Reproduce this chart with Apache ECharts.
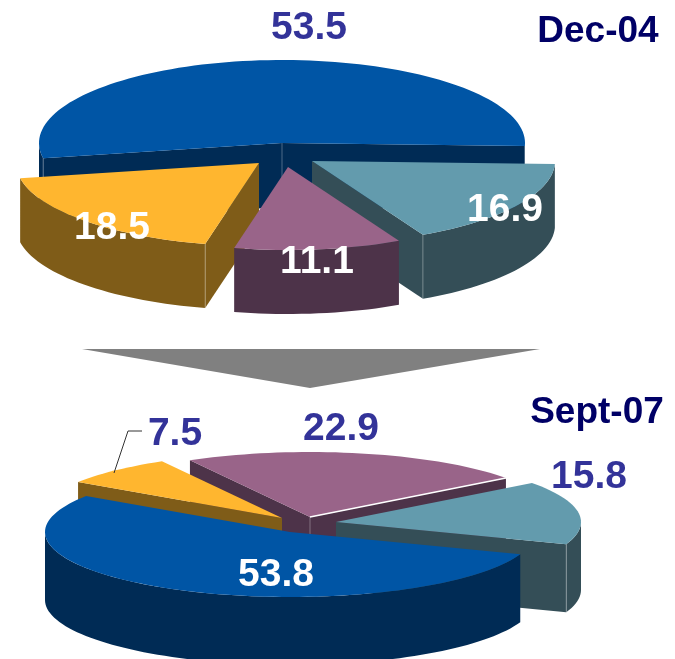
<!DOCTYPE html>
<html>
<head>
<meta charset="UTF-8">
<title>Dec-04 / Sept-07</title>
<style>
    html, body {margin: 0; padding: 0; background: #fff;}
    #main {width: 675px; height: 659px;}
</style>
</head>
<body>
<div id="main"></div>
<script src="https://cdn.jsdelivr.net/npm/echarts@6/dist/echarts.min.js"></script>
<script>
// slices are listed clockwise, starting from each pie's startAngle
var dec04Slices = ['teal', 'purple', 'orange', 'blue'];
var dec04Values = [16.9, 11.1, 18.5, 53.5];
var sept07Slices = ['teal', 'blue', 'orange', 'purple'];
var sept07Values = [15.8, 53.8, 7.5, 22.9];
var titles = ['Dec-04', 'Sept-07'];

var topColors = {blue: '#0055A5', teal: '#639BAD', purple: '#996489', orange: '#FFB62F'};
var wallColors = {blue: '#002B55', teal: '#344E57', purple: '#4D3349', orange: '#7F5C18'};
var fontFamily = '"Liberation Sans", Arial, sans-serif';

// the reference is a fake 3d exploded pie, one custom series per pie
var pies = [{
    slices: dec04Slices, values: dec04Values,
    rx: 243, ry: 83, depth: 64, startAngle: 2,
    drawOrder: ['blue', 'teal', 'orange', 'purple'],
    tips: {blue: [282, 143], teal: [312, 161], purple: [288, 167], orange: [259, 163]}
}, {
    slices: sept07Slices, values: sept07Values,
    rx: 245, ry: 65, depth: 68, startAngle: 323.1,
    drawOrder: ['purple', 'teal', 'orange', 'blue'],
    tips: {blue: [290, 532], teal: [336, 522], purple: [310, 517], orange: [282, 518]},
    whiteEdge: 'purple'
}];

function rim(tip, pie, deg) {
    var t = deg * Math.PI / 180;
    return [tip[0] + pie.rx * Math.cos(t), tip[1] + pie.ry * Math.sin(t)];
}

function arcPoints(tip, pie, from, to) {
    var pts = [];
    var n = Math.max(2, Math.ceil((to - from) / 2));
    for (var i = 0; i <= n; i++) {
        pts.push(rim(tip, pie, from + (to - from) * i / n));
    }
    return pts;
}

function down(p, depth) {
    return [p[0], p[1] + depth];
}

function cutWall(tip, edge, depth, fill) {
    return {
        type: 'polygon',
        shape: {points: [tip, edge, down(edge, depth), down(tip, depth)]},
        style: {fill: fill}
    };
}

function hairline(a, b, color, width, opacity) {
    return {
        type: 'line',
        shape: {x1: a[0], y1: a[1], x2: b[0], y2: b[1]},
        style: {stroke: color, lineWidth: width, opacity: opacity}
    };
}

function makeRenderItem(pie) {
    return function (params, api) {
        var name = pie.slices[api.value(0)];
        var from = api.value(1);
        var to = from + api.value(2) * 3.6;
        var tip = pie.tips[name];
        var a = rim(tip, pie, from);
        var b = rim(tip, pie, to);
        var fromFacing = Math.cos(from * Math.PI / 180) < 0;
        var toFacing = Math.cos(to * Math.PI / 180) > 0;
        var children = [];

        if (fromFacing) children.push(cutWall(tip, a, pie.depth, wallColors[name]));
        if (toFacing) children.push(cutWall(tip, b, pie.depth, wallColors[name]));

        // outer wall, only where the rim faces the viewer
        for (var k = 0; k < 3; k++) {
            var s = Math.max(from, k * 360);
            var e = Math.min(to, k * 360 + 180);
            if (e > s) {
                var arc = arcPoints(tip, pie, s, e);
                var low = arc.map(function (p) { return down(p, pie.depth); }).reverse();
                children.push({
                    type: 'polygon',
                    shape: {points: arc.concat(low)},
                    style: {fill: wallColors[name]}
                });
            }
        }

        // light corner lines
        if (fromFacing && toFacing) {
            children.push(hairline(tip, down(tip, pie.depth), '#ffffff', 1, 0.3));
        }
        if (fromFacing && Math.sin(from * Math.PI / 180) > 0) {
            children.push(hairline(a, down(a, pie.depth), '#ffffff', 1, 0.3));
        }
        if (toFacing && Math.sin(to * Math.PI / 180) > 0) {
            children.push(hairline(b, down(b, pie.depth), '#ffffff', 1, 0.3));
        }

        children.push({
            type: 'polygon',
            shape: {points: [tip].concat(arcPoints(tip, pie, from, to))},
            style: {fill: topColors[name]}
        });
        if (pie.whiteEdge === name) {
            children.push(hairline(tip, b, '#ffffff', 1.5, 1));
        }
        return {type: 'group', children: children};
    };
}

function makeRows(pie) {
    var rows = [];
    var angle = pie.startAngle;
    pie.values.forEach(function (v, i) {
        rows.push([i, angle, v]);
        angle += v * 3.6;
    });
    rows.sort(function (x, y) {
        return pie.drawOrder.indexOf(pie.slices[x[0]]) - pie.drawOrder.indexOf(pie.slices[y[0]]);
    });
    return rows;
}

function textEl(str, cx, cy, color, size) {
    return {
        type: 'text',
        x: cx,
        y: cy,
        z: 100,
        style: {
            text: str,
            fill: color,
            font: 'bold ' + (size || 39) + 'px ' + fontFamily,
            textAlign: 'center',
            textVerticalAlign: 'middle'
        }
    };
}

var inkBlue = '#333399';
var graphicEls = [
    {
        type: 'polygon',
        shape: {points: [[82, 349], [540, 349], [310, 388]]},
        style: {fill: '#808080'}
    },
    {
        type: 'polyline',
        z: 100,
        shape: {points: [[114, 473], [128, 431], [142, 431]]},
        style: {stroke: '#333333', lineWidth: 1, fill: null}
    },
    textEl(titles[0], 598, 32, '#000066', 37),
    textEl(titles[1], 597, 413, '#000066', 37),
    textEl(dec04Values[3].toFixed(1), 309, 28, inkBlue),
    textEl(dec04Values[2].toFixed(1), 112, 228, '#ffffff'),
    textEl(dec04Values[1].toFixed(1), 317, 262, '#ffffff'),
    textEl(dec04Values[0].toFixed(1), 505, 210, '#ffffff'),
    textEl(sept07Values[2].toFixed(1), 175, 434, inkBlue),
    textEl(sept07Values[3].toFixed(1), 341, 429, inkBlue),
    textEl(sept07Values[0].toFixed(1), 589, 477, inkBlue),
    textEl(sept07Values[1].toFixed(1), 276, 575, '#ffffff')
];

var myChart = echarts.init(document.getElementById('main'));
myChart.setOption({
    animation: false,
    backgroundColor: '#ffffff',
    graphic: {elements: graphicEls},
    series: pies.map(function (pie) {
        return {
            type: 'custom',
            coordinateSystem: 'none',
            silent: true,
            renderItem: makeRenderItem(pie),
            data: makeRows(pie)
        };
    })
});
</script>
</body>
</html>
